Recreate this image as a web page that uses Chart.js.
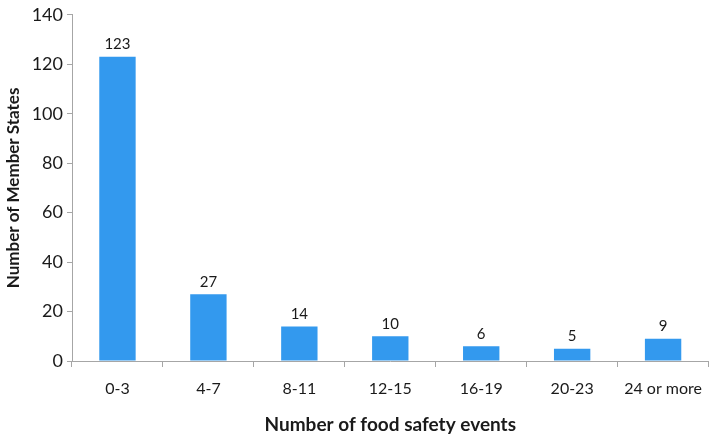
<!DOCTYPE html>
<html>
<head>
<meta charset="utf-8">
<script src="https://cdn.jsdelivr.net/npm/chart.js@4/dist/chart.umd.min.js"></script>
<style>
  html, body { margin: 0; padding: 0; background: #ffffff; }
  #wrap { width: 714px; height: 438px; position: relative; }
</style>
</head>
<body>
<div id="wrap"><canvas id="c" width="714" height="438"></canvas></div>
<script>
const categories = ["0-3", "4-7", "8-11", "12-15", "16-19", "20-23", "24 or more"];
const memberStates = [123, 27, 14, 10, 6, 5, 9];
const yTicks = [0, 20, 40, 60, 80, 100, 120, 140];
const xTitle = "Number of food safety events";
const yTitle = "Number of Member States";

const FONT = "Lato, 'Open Sans', sans-serif";
const TEXT = "#1a1a1a";

const valueLabels = {
  id: "valueLabels",
  afterDatasetsDraw(chart) {
    const ctx = chart.ctx;
    const meta = chart.getDatasetMeta(0);
    ctx.save();
    ctx.font = "15px " + FONT;
    ctx.fillStyle = TEXT;
    ctx.textAlign = "center";
    ctx.textBaseline = "bottom";
    meta.data.forEach((bar, i) => {
      ctx.fillText(String(memberStates[i]), bar.x, bar.y - 5);
    });
    ctx.restore();
  }
};

new Chart(document.getElementById("c"), {
  type: "bar",
  data: {
    labels: categories,
    datasets: [{
      data: memberStates,
      backgroundColor: "#3399ee",
      borderWidth: 0,
      categoryPercentage: 1.0,
      barPercentage: 0.4
    }]
  },
  options: {
    responsive: false,
    animation: false,
    devicePixelRatio: 1,
    layout: { padding: { top: 8, right: 0, bottom: 0, left: 0 } },
    plugins: { legend: { display: false }, tooltip: { enabled: false } },
    scales: {
      x: {
        grid: { display: true, drawOnChartArea: false, drawTicks: true, tickLength: 6, color: "#a6a6a6", offset: true },
        border: { display: true, color: "#a6a6a6", width: 1 },
        ticks: { color: TEXT, font: { family: FONT, size: 16 }, padding: 12, maxRotation: 0, autoSkip: false },
        title: { display: true, text: xTitle, color: TEXT, font: { family: FONT, size: 19, weight: "bold" }, padding: { top: 0, bottom: 2 } },
        afterFit(scale) { scale.height = 77; }
      },
      y: {
        min: 0,
        max: 140,
        afterBuildTicks(scale) { scale.ticks = yTicks.map(v => ({ value: v })); },
        grid: { display: true, drawOnChartArea: false, drawTicks: true, tickLength: 5, color: "#a6a6a6" },
        border: { display: true, color: "#a6a6a6", width: 1 },
        ticks: { color: TEXT, font: { family: FONT, size: 18 }, padding: 4 },
        title: { display: true, text: yTitle, color: TEXT, font: { family: FONT, size: 17, weight: "bold" }, padding: { top: 3, bottom: 0 } },
        afterFit(scale) { scale.width = 72; }
      }
    }
  },
  plugins: [valueLabels]
});
</script>
</body>
</html>
